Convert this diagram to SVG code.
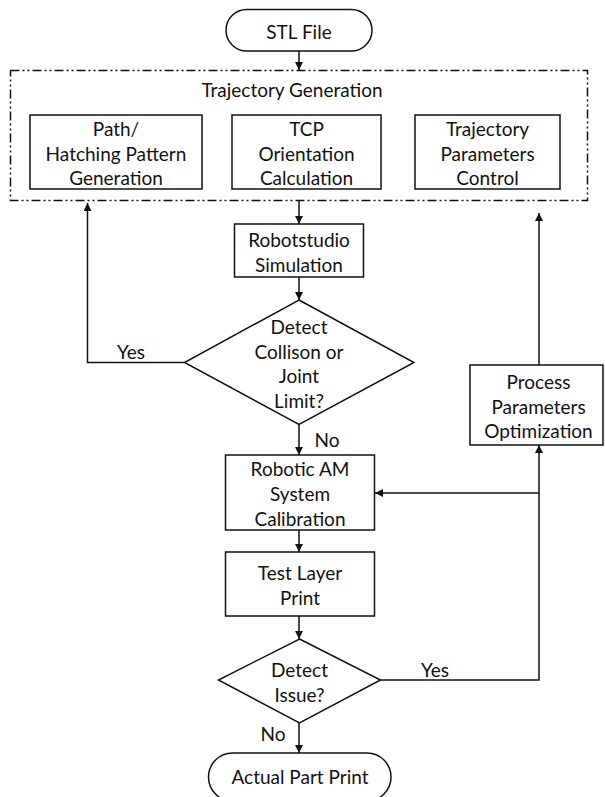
<svg xmlns="http://www.w3.org/2000/svg" width="605" height="797" viewBox="0 0 605 797">
<style>
text{font-family:Lato,"Open Sans","Liberation Sans",sans-serif;font-size:19px;fill:#111;text-anchor:middle;dominant-baseline:central}
.box{fill:#fff;stroke:#111;stroke-width:1.5}
.cn{fill:none;stroke:#111;stroke-width:1.5}
.dash{fill:none;stroke:#111;stroke-width:1.5;stroke-dasharray:9 3 2 3 2 3}
</style>
<defs>
<marker id="ah" viewBox="0 0 10 10" refX="10" refY="5" markerWidth="8" markerHeight="8" markerUnits="userSpaceOnUse" orient="auto">
<path d="M0,0 L10,5 L0,10 z" fill="#111"/>
</marker>
</defs>
<rect width="605" height="797" fill="#fff"/>
<g id="connectors">
<line class="cn" x1="299" y1="51" x2="299" y2="70" marker-end="url(#ah)"/>
<line class="cn" x1="299" y1="201" x2="299" y2="224" marker-end="url(#ah)"/>
<line class="cn" x1="299" y1="277" x2="299" y2="300" marker-end="url(#ah)"/>
<polyline class="cn" points="184.5,362.5 87.5,362.5 87.5,203" marker-end="url(#ah)"/>
<line class="cn" x1="299" y1="424.5" x2="299" y2="455" marker-end="url(#ah)"/>
<line class="cn" x1="299" y1="530" x2="299" y2="552" marker-end="url(#ah)"/>
<line class="cn" x1="299" y1="616" x2="299" y2="639" marker-end="url(#ah)"/>
<line class="cn" x1="299" y1="723" x2="299" y2="753" marker-end="url(#ah)"/>
<polyline class="cn" points="380.5,680 539,680 539,445" marker-end="url(#ah)"/>
<line class="cn" x1="539" y1="493" x2="375" y2="493" marker-end="url(#ah)"/>
<line class="cn" x1="539" y1="365" x2="539" y2="213" marker-end="url(#ah)"/>
<text x="131" y="351">Yes</text>
<text x="327" y="439">No</text>
<text x="435" y="669">Yes</text>
<text x="273" y="733">No</text>
</g>
<g id="stl">
<rect class="box" x="226" y="9.5" width="146" height="41.5" rx="20.75"/>
<text x="299" y="31">STL File</text>
</g>
<g id="traj">
<rect class="dash" x="10.5" y="70.5" width="577" height="130"/>
<text x="292" y="89">Trajectory Generation</text>
</g>
<g id="path">
<rect class="box" x="30" y="115" width="172" height="74"/>
<text x="116" y="128.5">Path/</text>
<text x="116" y="153">Hatching Pattern</text>
<text x="116" y="177.5">Generation</text>
</g>
<g id="tcp">
<rect class="box" x="232" y="115" width="149" height="74"/>
<text x="306.5" y="128.5">TCP</text>
<text x="306.5" y="153">Orientation</text>
<text x="306.5" y="177.5">Calculation</text>
</g>
<g id="tpc">
<rect class="box" x="415" y="115" width="145" height="74"/>
<text x="487.5" y="128.5">Trajectory</text>
<text x="487.5" y="153">Parameters</text>
<text x="487.5" y="177.5">Control</text>
</g>
<g id="robotstudio">
<rect class="box" x="234.5" y="224" width="129" height="53"/>
<text x="299" y="239.5">Robotstudio</text>
<text x="299" y="264">Simulation</text>
</g>
<g id="collision">
<polygon class="box" points="299,300 414,362.5 299,424.5 184.5,362.5"/>
<text x="299" y="326">Detect</text>
<text x="299" y="351">Collison or</text>
<text x="299" y="375.5">Joint</text>
<text x="299" y="400">Limit?</text>
</g>
<g id="process">
<rect class="box" x="470" y="365" width="133" height="80"/>
<text x="538.5" y="381">Process</text>
<text x="538.5" y="406">Parameters</text>
<text x="538.5" y="430.5">Optimization</text>
</g>
<g id="calibration">
<rect class="box" x="225.5" y="455" width="149" height="75"/>
<text x="300" y="468.5">Robotic AM</text>
<text x="300" y="493">System</text>
<text x="300" y="518">Calibration</text>
</g>
<g id="testlayer">
<rect class="box" x="225.5" y="552" width="149" height="64"/>
<text x="300" y="572.5">Test Layer</text>
<text x="300" y="597.5">Print</text>
</g>
<g id="issue">
<polygon class="box" points="299.5,639 380.5,680 299.5,723 218.5,680"/>
<text x="299.5" y="669">Detect</text>
<text x="299.5" y="694">Issue?</text>
</g>
<g id="actual">
<rect class="box" x="208.5" y="753" width="182.5" height="48" rx="24"/>
<text x="300" y="776">Actual Part Print</text>
</g>
</svg>
